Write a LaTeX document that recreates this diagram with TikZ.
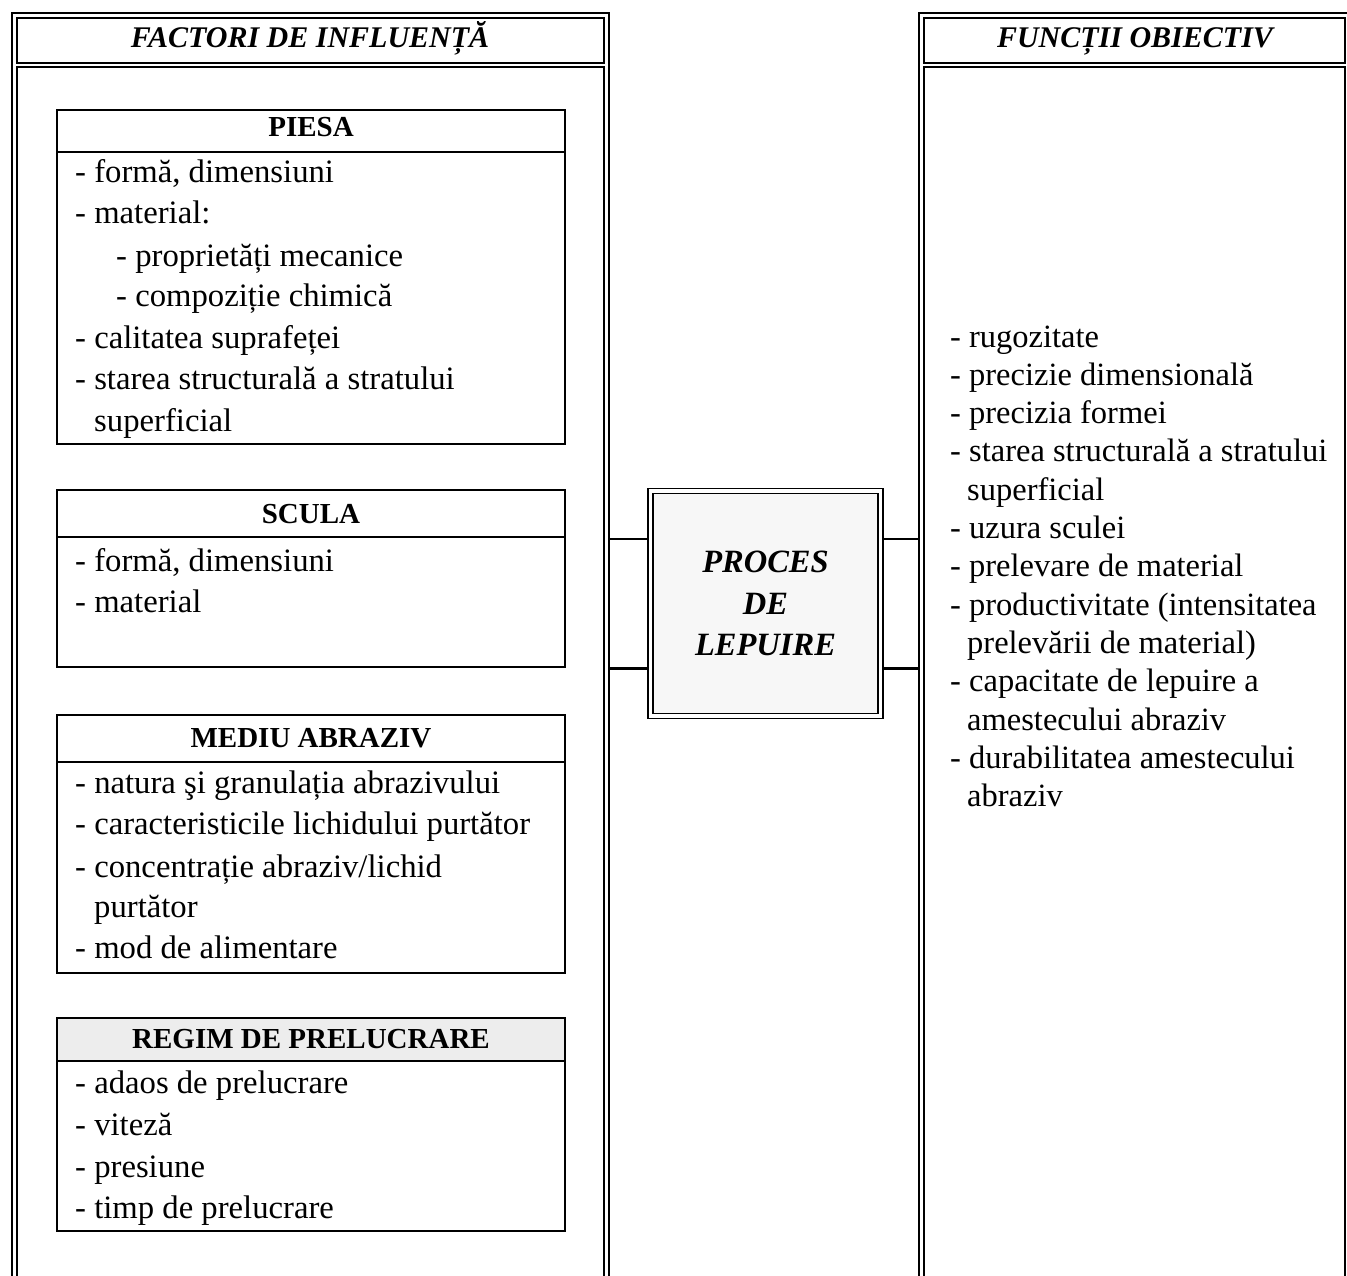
\documentclass[tikz,border=0pt]{standalone}
\usepackage{fontspec}
\setmainfont{Liberation Serif}
\usetikzlibrary{calc}
\begin{document}
\begin{tikzpicture}[x=1pt,y=-1pt,
  outerframe/.style={draw, line width=2.2pt, inner sep=0pt, outer sep=0pt, anchor=north west},
  innerframe/.style={draw, line width=1.4pt, inner sep=0pt, outer sep=0pt, anchor=north west},
  factorbox/.style={draw, line width=1.7pt, inner sep=0pt, outer sep=0pt, anchor=north west,
                    minimum width=508pt},
  coltitle/.style={font=\fontsize{30}{36}\selectfont\bfseries\itshape, anchor=base, inner sep=0pt},
  boxtitle/.style={font=\fontsize{29}{34}\selectfont\bfseries, anchor=base, inner sep=0pt},
  item/.style={font=\fontsize{32.7}{40}\selectfont, anchor=base west, inner sep=0pt},
  goal/.style={font=\fontsize{32.5}{38}\selectfont, anchor=base west, inner sep=0pt},
  link/.style={line width=2.8pt},
]
\useasboundingbox (0,0) rectangle (1347,1276);
\begin{scope}
\clip (0,0) rectangle (1347,1276);

% left column: influence factors
\node[outerframe, minimum width=597pt, minimum height=1300pt] (lframe) at (12,13) {};
\node[innerframe, minimum width=587pt, minimum height=45pt] (lhead) at (17,18) {};
\node[innerframe, minimum width=587pt, minimum height=1230pt] (lbody) at (17,67) {};
\node[coltitle] (ltitle) at (310,48) {FACTORI DE INFLUENȚĂ};

% right column: objective functions
\node[outerframe, minimum width=431pt, minimum height=1300pt] (rframe) at (919,13) {};
\node[innerframe, minimum width=421pt, minimum height=45pt] (rhead) at (924,18) {};
\node[innerframe, minimum width=421pt, minimum height=1230pt] (rbody) at (924,67) {};
\node[coltitle] (rtitle) at (1135,48) {FUNCȚII OBIECTIV};

% PIESA
\node[factorbox, minimum height=42pt] (piesah) at (57,110) {};
\node[factorbox, minimum height=292pt] (piesab) at (57,152) {};
\node[boxtitle] (piesat) at (311,137) {PIESA};
\node[item] (p1) at (75,183) {- formă, dimensiuni};
\node[item] (p2) at (75,224) {- material:};
\node[item] (p3) at (116,266) {- proprietăți mecanice};
\node[item] (p4) at (116,306) {- compoziție chimică};
\node[item] (p5) at (75,348) {- calitatea suprafeței};
\node[item] (p6) at (75,389) {- starea structurală a stratului};
\node[item] (p7) at (94,431) {superficial};

% SCULA
\node[factorbox, minimum height=47pt] (sculah) at (57,490) {};
\node[factorbox, minimum height=130pt] (sculab) at (57,537) {};
\node[boxtitle] (sculat) at (311,523) {SCULA};
\node[item] (s1) at (75,571) {- formă, dimensiuni};
\node[item] (s2) at (75,612) {- material};

% MEDIU ABRAZIV
\node[factorbox, minimum height=47pt] (mediuh) at (57,715) {};
\node[factorbox, minimum height=211pt] (mediub) at (57,762) {};
\node[boxtitle] (mediut) at (311,747) {MEDIU ABRAZIV};
\node[item] (m1) at (75,793) {- natura şi granulația abrazivului};
\node[item] (m2) at (75,834) {- caracteristicile lichidului purtător};
\node[item] (m3) at (75,877) {- concentrație abraziv/lichid};
\node[item] (m4) at (94,917) {purtător};
\node[item] (m5) at (75,958) {- mod de alimentare};

% REGIM DE PRELUCRARE
\node[factorbox, minimum height=43pt, fill=black!7] (regimh) at (57,1018) {};
\node[factorbox, minimum height=170pt] (regimb) at (57,1061) {};
\node[boxtitle] (regimt) at (311,1048) {REGIM DE PRELUCRARE};
\node[item] (g1) at (75,1093) {- adaos de prelucrare};
\node[item] (g2) at (75,1135) {- viteză};
\node[item] (g3) at (75,1177) {- presiune};
\node[item] (g4) at (75,1218) {- timp de prelucrare};

% objective functions list
\node[goal] (o1) at (950,347) {- rugozitate};
\node[goal] (o2) at (950,385.3) {- precizie dimensională};
\node[goal] (o3) at (950,423.6) {- precizia formei};
\node[goal] (o4) at (950,461.9) {- starea structurală a stratului};
\node[goal] (o5) at (967,500.2) {superficial};
\node[goal] (o6) at (950,538.5) {- uzura sculei};
\node[goal] (o7) at (950,576.8) {- prelevare de material};
\node[goal] (o8) at (950,615.1) {- productivitate (intensitatea};
\node[goal] (o9) at (967,653.4) {prelevării de material)};
\node[goal] (o10) at (950,691.7) {- capacitate de lepuire a};
\node[goal] (o11) at (967,730) {amestecului abraziv};
\node[goal] (o12) at (950,768.3) {- durabilitatea amestecului};
\node[goal] (o13) at (967,806.6) {abraziv};

% central process block
\node[draw, double, line width=1.4pt, double distance=3.6pt, fill=black!3,
      minimum width=230pt, minimum height=225pt, inner sep=0pt, outer sep=2.5pt,
      align=center, font=\fontsize{32.5}{41.5}\selectfont\bfseries\itshape]
      (proc) at (765.5,603.5) {PROCES\\DE\\LEPUIRE};

% links between the process block and both columns
\coordinate (pl1) at ([yshift=64.5pt]proc.west);
\coordinate (pl2) at ([yshift=-65pt]proc.west);
\coordinate (pr1) at ([yshift=64.5pt]proc.east);
\coordinate (pr2) at ([yshift=-65pt]proc.east);
\draw[link] (pl1) -- (pl1 -| lframe.east);
\draw[link] (pl2) -- (pl2 -| lframe.east);
\draw[link] (pr1) -- (pr1 -| rframe.west);
\draw[link] (pr2) -- (pr2 -| rframe.west);
\end{scope}
\end{tikzpicture}
\end{document}
